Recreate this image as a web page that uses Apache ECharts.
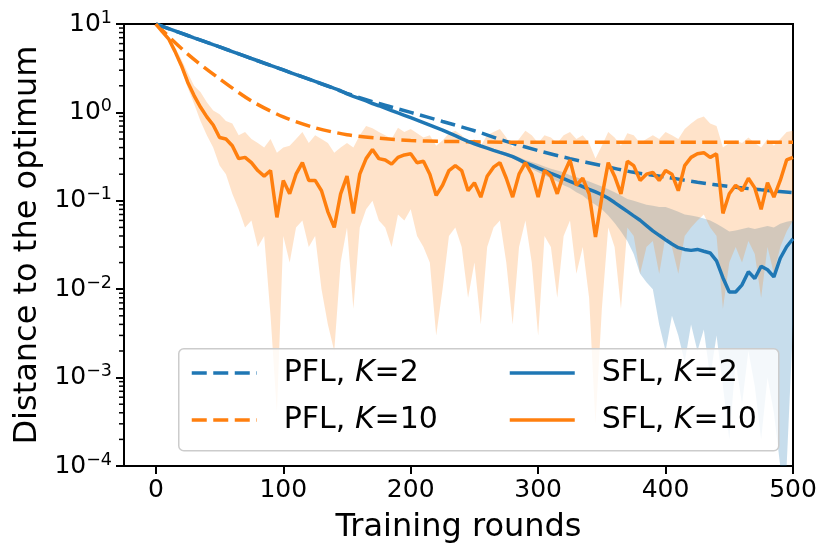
<!DOCTYPE html>
<html>
<head>
<meta charset="utf-8">
<script src="https://cdn.jsdelivr.net/npm/echarts@6/dist/echarts.min.js"></script>
<style>
  html, body { margin: 0; padding: 0; background: #fff; }
  #chart { width: 831px; height: 557px; }
</style>
</head>
<body>
<div id="chart"></div>
<script>
// x positions (training rounds)
const rounds = [0,5,10,15,20,25,30,35,40,45,50,55,60,65,70,75,80,85,90,95,
  100,105,110,115,120,125,130,135,140,145,150,155,160,165,170,175,180,185,190,195,
  200,205,210,215,220,225,230,235,240,245,250,255,260,265,270,275,280,285,290,295,
  300,305,310,315,320,325,330,335,340,345,350,355,360,365,370,375,380,385,390,395,
  400,405,410,415,420,425,430,435,440,445,450,455,460,465,470,475,480,485,490,495,500];
const pflRounds = [0,25,50,75,100,125,150,175,200,225,250,275,300,325,350,375,400,425,450,475,500];
const bandRoundsK2 = [270,275,280,285,290,295,300,305,310,315,320,325,330,335,340,345,
  350,355,360,365,370,375,380,385,390,395,400,405,410,415,420,425,430,435,440,445,
  450,455,460,465,470,475,480,485,490,495,500];

// PFL curves
const pflK2 = [10,7.41,5.50,4.07,3.02,2.24,1.64,1.26,1.0,0.79,0.62,0.47,0.37,0.30,0.25,0.21,0.186,0.162,0.145,0.133,0.124];
const pflK10 = [10,4.57,2.40,1.35,0.89,0.67,0.56,0.51,0.48,0.47,0.465,0.46,0.46,0.46,0.46,0.46,0.46,0.46,0.46,0.46,0.46];

// SFL, K=2 mean
const sflK2 = [10,9.42,8.87,8.36,7.87,7.41,6.98,6.58,6.19,5.83,5.50,5.18,4.88,4.59,4.33,4.07,3.84,3.61,3.40,3.21,
  3.02,2.84,2.68,2.52,2.38,2.24,2.11,1.99,1.87,1.76,1.62,1.52,1.43,1.35,1.26,1.19,1.12,1.05,0.986,0.927,
  0.871,0.817,0.766,0.718,0.673,0.631,0.586,0.545,0.506,0.470,0.442,0.417,0.394,0.372,0.353,0.335,0.316,0.292,0.269,0.251,
  0.234,0.219,0.204,0.191,0.178,0.166,0.155,0.145,0.135,0.126,0.117,0.107,0.0955,0.0851,0.0759,0.0676,0.0603,0.0525,0.0457,0.0407,
  0.0363,0.0324,0.0295,0.0282,0.0275,0.0282,0.0269,0.0257,0.0209,0.0135,0.0093,0.0093,0.0112,0.0158,0.0132,0.0182,0.0166,0.0138,0.0224,0.0302,0.0372];
const sflK2Low = [0.34,0.32,0.30,0.275,0.25,0.23,0.21,0.195,0.18,0.165,0.15,0.14,0.125,0.115,0.1,0.09,
  0.08,0.068,0.056,0.045,0.035,0.025,0.015,0.012,0.01,0.004,0.002,0.005,0.003,0.0015,0.004,0.002,0.0035,0.001,0.003,0.0008,
  0.0002,0.0015,0.0005,0.002,0.0008,0.0002,0.001,0.0004,0.0001,0.0001,0.004];
const sflK2High = [0.365,0.35,0.335,0.31,0.29,0.275,0.26,0.245,0.23,0.22,0.21,0.195,0.185,0.175,0.165,0.155,
  0.145,0.135,0.125,0.115,0.105,0.1,0.095,0.09,0.088,0.085,0.085,0.08,0.075,0.07,0.068,0.066,0.063,0.06,0.055,0.05,
  0.045,0.046,0.048,0.05,0.048,0.05,0.052,0.05,0.055,0.058,0.06];

// SFL, K=10 mean and band
const sflK10 = [10,8.2,6.8,4.9,3.4,2.2,1.55,1.15,0.89,0.72,0.52,0.5,0.42,0.3,0.31,0.27,0.22,0.19,0.22,0.065,
  0.17,0.12,0.2,0.27,0.17,0.17,0.13,0.075,0.05,0.12,0.19,0.072,0.2,0.3,0.38,0.3,0.29,0.26,0.31,0.33,
  0.34,0.27,0.28,0.2,0.115,0.15,0.22,0.25,0.22,0.13,0.16,0.11,0.19,0.24,0.27,0.18,0.11,0.2,0.27,0.2,
  0.11,0.22,0.19,0.12,0.2,0.29,0.15,0.18,0.12,0.039,0.11,0.27,0.19,0.12,0.28,0.25,0.17,0.2,0.21,0.17,
  0.22,0.2,0.13,0.25,0.31,0.34,0.35,0.31,0.34,0.072,0.12,0.15,0.13,0.18,0.14,0.08,0.16,0.11,0.17,0.29,0.31];
const sflK10Low = [10,8.0,6.5,4.6,3.1,1.9,1.25,0.8,0.55,0.4,0.25,0.2,0.12,0.08,0.05,0.06,0.03,0.04,0.005,0.0004,
  0.04,0.02,0.05,0.06,0.03,0.04,0.01,0.004,0.002,0.02,0.05,0.006,0.05,0.08,0.1,0.06,0.05,0.03,0.07,0.06,
  0.08,0.04,0.03,0.02,0.003,0.01,0.04,0.05,0.03,0.008,0.02,0.004,0.03,0.05,0.06,0.02,0.004,0.03,0.06,0.02,
  0.003,0.04,0.03,0.008,0.04,0.06,0.015,0.03,0.008,0.0003,0.006,0.05,0.03,0.006,0.05,0.04,0.015,0.03,0.035,0.015,
  0.04,0.03,0.015,0.04,0.05,0.06,0.07,0.05,0.04,0.006,0.02,0.03,0.02,0.035,0.025,0.008,0.03,0.015,0.03,0.045,0.06];
const sflK10High = [10,8.5,7.2,5.5,4.0,2.8,2.0,1.7,1.3,1.05,0.95,0.8,0.75,0.55,0.6,0.5,0.45,0.4,0.5,0.35,
  0.4,0.42,0.5,0.6,0.45,0.55,0.5,0.45,0.35,0.4,0.45,0.4,0.55,0.7,0.66,0.6,0.55,0.5,0.67,0.6,
  0.65,0.58,0.52,0.55,0.42,0.48,0.58,0.62,0.55,0.45,0.5,0.42,0.55,0.6,0.65,0.52,0.4,0.5,0.62,0.55,
  0.45,0.55,0.52,0.45,0.55,0.6,0.5,0.55,0.45,0.3,0.42,0.6,0.52,0.42,0.58,0.55,0.45,0.5,0.55,0.5,
  0.6,0.55,0.5,0.65,0.75,0.85,0.9,0.75,0.7,0.4,0.45,0.48,0.45,0.52,0.45,0.4,0.5,0.42,0.5,0.6,0.62];

// ticks
const xTicks = [0,100,200,300,400,500];
const minorMantissas = [2,3,4,5,6,7,8,9];
const decades = [1e-4,1e-3,1e-2,1e-1,1];
const yMinorTicks = [];
decades.forEach(function(d) {
  minorMantissas.forEach(function(m) { yMinorTicks.push(+(m * d).toPrecision(3)); });
});

const X_MIN = -25;
const BLUE = '#1f77b4';
const ORANGE = '#ff7f0e';
const FONT = 'DejaVu Sans';

function pairs(xs, ys) {
  return xs.map(function(x, i) { return [x, ys[i]]; });
}

// shaded band between low and high, drawn once as a polygon
function band(name, xs, lo, hi, color) {
  return {
    type: 'custom',
    name: name,
    silent: true,
    clip: true,
    data: xs.map(function(x, i) { return [x, lo[i], hi[i]]; }),
    encode: { x: 0, y: [1, 2] },
    renderItem: function(params, api) {
      if (params.dataIndex !== 0) return null;
      var pts = [];
      for (var i = 0; i < xs.length; i++) pts.push(api.coord([xs[i], hi[i]]));
      for (var j = xs.length - 1; j >= 0; j--) pts.push(api.coord([xs[j], lo[j]]));
      return { type: 'polygon', shape: { points: pts }, style: { fill: color } };
    }
  };
}

function legendFmt(name) {
  var p = name.split('K');
  return '{n|' + p[0] + '}{i|K}{r|' + p[1] + '}';
}
var legendRich = {
  n: { fontFamily: FONT, fontSize: 30, color: '#000', lineHeight: 30, padding: [0, 0, 0, 22] },
  i: { fontFamily: FONT, fontSize: 30, color: '#000', lineHeight: 30, fontStyle: 'italic' },
  r: { fontFamily: FONT, fontSize: 30, color: '#000', lineHeight: 30 }
};
var legendBase = {
  orient: 'vertical', top: 358, padding: 0,
  itemWidth: 65, itemHeight: 14, itemGap: 17, z: 20, formatter: legendFmt,
  itemStyle: { opacity: 0 },
  lineStyle: { width: 3.5 },
  textStyle: { rich: legendRich }
};

var chart = echarts.init(document.getElementById('chart'));
var option = {
  animation: false,
  backgroundColor: '#fff',
  grid: { left: 124, right: 38, top: 24, bottom: 91, show: true, borderColor: '#000', borderWidth: 2, backgroundColor: 'transparent' },
  xAxis: {
    type: 'value', min: X_MIN, max: 500,
    name: 'Training rounds', nameLocation: 'middle', nameGap: 46,
    nameTextStyle: { fontFamily: FONT, fontSize: 32, color: '#000' },
    axisLine: { show: false, onZero: false },
    splitLine: { show: false },
    axisTick: { customValues: xTicks, length: 8, lineStyle: { color: '#000', width: 2 } },
    axisLabel: { customValues: xTicks, fontFamily: FONT, fontSize: 25, color: '#000', margin: 12 }
  },
  yAxis: {
    type: 'log', logBase: 10, min: 1e-4, max: 10,
    name: 'Distance to the optimum', nameLocation: 'middle', nameGap: 80,
    nameTextStyle: { fontFamily: FONT, fontSize: 32, color: '#000' },
    axisLine: { show: false, onZero: false },
    splitLine: { show: false },
    axisTick: { length: 8, lineStyle: { color: '#000', width: 2 } },
    axisLabel: {
      margin: 12,
      formatter: function(v) {
        var e = Math.round(Math.log10(v));
        return '{b|10}{s|' + (e < 0 ? '\u2212' + (-e) : e) + '}';
      },
      rich: {
        b: { fontFamily: FONT, fontSize: 25, color: '#000', lineHeight: 30 },
        s: { fontFamily: FONT, fontSize: 17.5, color: '#000', verticalAlign: 'top', lineHeight: 18 }
      }
    }
  },
  legend: [
    Object.assign({ data: ['PFL, K=2', 'PFL, K=10'], left: 190 }, legendBase),
    Object.assign({ data: ['SFL, K=2', 'SFL, K=10'], left: 508 }, legendBase)
  ],
  graphic: [{
    type: 'rect', left: 178, top: 348, z: 10,
    shape: { width: 600, height: 102, r: 5 },
    style: { fill: 'rgba(255,255,255,0.8)', stroke: '#cccccc', lineWidth: 1.5 }
  }],
  series: [
    { name: 'PFL, K=2', type: 'line', data: pairs(pflRounds, pflK2), symbol: 'none', smooth: 0.3,
      lineStyle: { color: BLUE, width: 3.5, type: [15, 6.5] }, itemStyle: { color: BLUE } },
    { name: 'PFL, K=10', type: 'line', data: pairs(pflRounds, pflK10), symbol: 'none', smooth: 0.3,
      lineStyle: { color: ORANGE, width: 3.5, type: [15, 6.5] }, itemStyle: { color: ORANGE } },
    band('band K=2', bandRoundsK2, sflK2Low, sflK2High, 'rgba(31,119,180,0.25)'),
    { name: 'SFL, K=2', type: 'line', data: pairs(rounds, sflK2), symbol: 'none',
      lineStyle: { color: BLUE, width: 3.5 }, itemStyle: { color: BLUE } },
    band('band K=10', rounds, sflK10Low, sflK10High, 'rgba(255,127,14,0.22)'),
    { name: 'SFL, K=10', type: 'line', data: pairs(rounds, sflK10), symbol: 'none',
      lineStyle: { color: ORANGE, width: 3.5 }, itemStyle: { color: ORANGE } },
    // minor log ticks on the left spine
    { name: 'minor ticks', type: 'custom', silent: true, clip: false, z: 5,
      data: yMinorTicks.map(function(v) { return [X_MIN, v]; }),
      encode: { x: 0, y: 1 },
      renderItem: function(params, api) {
        var p = api.coord([api.value(0), api.value(1)]);
        return { type: 'line', shape: { x1: p[0] - 5, y1: p[1], x2: p[0], y2: p[1] },
          style: { stroke: '#000', lineWidth: 1.5 } };
      }
    }
  ]
};
chart.setOption(option);
</script>
</body>
</html>
